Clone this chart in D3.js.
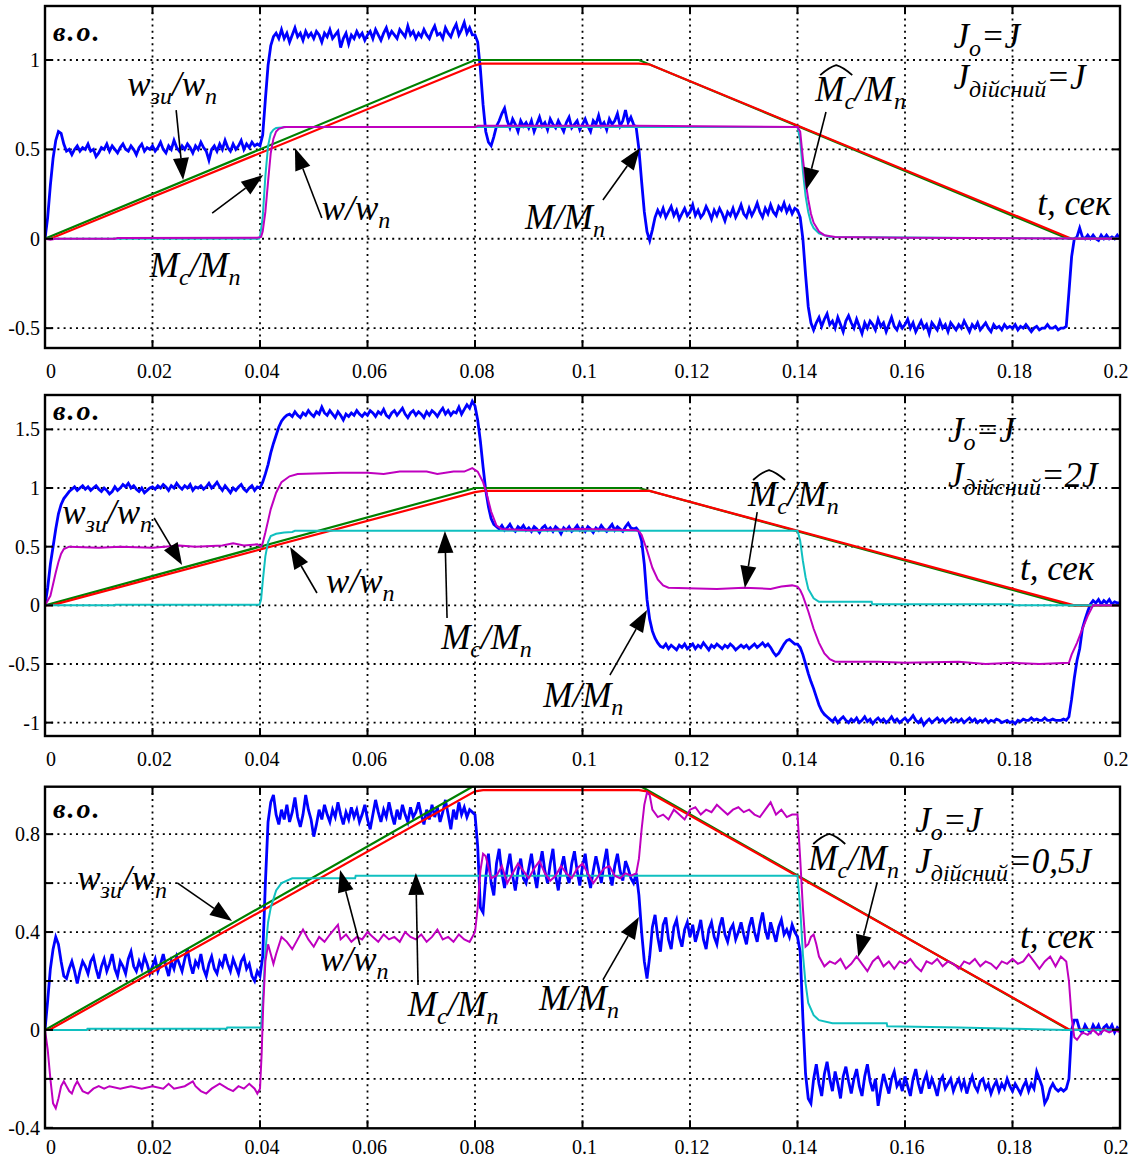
<!DOCTYPE html>
<html>
<head>
<meta charset="utf-8">
<script src="https://cdn.jsdelivr.net/npm/d3@7"></script>
<style>
  body { margin: 0; background: #fff; }
  svg { display: block; }
  text { font-family: "Liberation Serif", "Times New Roman", serif; fill: #000; }
</style>
</head>
<body>
<div id="container"></div>
<script>
// ---- axes ----
const xTicks = [0, 0.02, 0.04, 0.06, 0.08, 0.1, 0.12, 0.14, 0.16, 0.18, 0.2];
const xTickLabels = ["0", "0.02", "0.04", "0.06", "0.08", "0.1", "0.12", "0.14", "0.16", "0.18", "0.2"];
const yTicks1 = [-0.5, 0, 0.5, 1];
const yLabels1 = ["-0.5", "0", "0.5", "1"];
const yTicks2 = [-1, -0.5, 0, 0.5, 1, 1.5];
const yLabels2 = ["-1", "-0.5", "0", "0.5", "1", "1.5"];
const yTicks3 = [-0.4, -0.2, 0, 0.2, 0.4, 0.6, 0.8];
const yLabels3 = ["-0.4", "", "0", "", "0.4", "", "0.8"];

// M/Mn is sampled every 0.5 ms, one row per 10 ms
const dt = 0.0005;

// ---- panel 1: J_actual = J ----
const green1 = [[0,0],[0.08,1],[0.1105,1],[0.1903,0],[0.2,0]];
const red1 = [[0,0],[0.001,0],[0.08,0.97],[0.0812,0.98],[0.1105,0.98],[0.1125,0.975],[0.191,0],[0.2,0]];
const cyan1 = [[0,0],[0.0398,0],[0.04,0.01],[0.0405,0.12],[0.041,0.35],[0.0415,0.52],[0.042,0.59],[0.0425,0.61],[0.043,0.62],[0.045,0.625],[0.14,0.625],[0.1405,0.55],[0.141,0.38],[0.1415,0.24],[0.142,0.15],[0.1425,0.09],[0.143,0.06],[0.144,0.03],[0.146,0.01],[0.2,0]];
const magenta1 = [[0,0],[0.001,-0.006],[0.002,0],[0.013,0],[0.0135,0.004],[0.0395,0.006],[0.0402,0.01],[0.0405,0.04],[0.041,0.15],[0.0415,0.32],[0.042,0.48],[0.0425,0.56],[0.043,0.6],[0.0435,0.615],[0.0445,0.625],[0.08,0.625],[0.0805,0.632],[0.11,0.632],[0.14,0.625],[0.1405,0.6],[0.141,0.45],[0.1415,0.32],[0.142,0.22],[0.1425,0.14],[0.143,0.09],[0.144,0.04],[0.145,0.02],[0.147,0.01],[0.16,0.005],[0.2,0]];
const blue1 = [
  [0,0.12,0.3,0.45,0.55,0.6,0.59,0.53,0.49,0.5,0.47,0.5,0.52,0.49,0.51,0.5,0.53,0.49,0.5,0.46],
  [0.48,0.51,0.5,0.53,0.49,0.52,0.5,0.48,0.51,0.53,0.5,0.49,0.52,0.5,0.47,0.51,0.53,0.49,0.51,0.5],
  [0.52,0.49,0.51,0.54,0.5,0.48,0.52,0.5,0.55,0.51,0.49,0.52,0.5,0.53,0.51,0.48,0.52,0.5,0.54,0.51],
  [0.49,0.44,0.5,0.52,0.49,0.53,0.5,0.55,0.51,0.49,0.53,0.5,0.52,0.55,0.5,0.53,0.51,0.54,0.52,0.53],
  [0.52,0.58,0.78,0.97,1.08,1.13,1.15,1.12,1.17,1.12,1.15,1.1,1.14,1.18,1.13,1.15,1.11,1.16,1.13,1.15],
  [1.12,1.16,1.14,1.1,1.15,1.13,1.17,1.12,1.14,1.16,1.07,1.12,1.15,1.09,1.14,1.12,1.16,1.13,1.15,1.11],
  [1.14,1.16,1.12,1.17,1.14,1.11,1.15,1.18,1.13,1.16,1.14,1.12,1.17,1.15,1.13,1.19,1.14,1.16,1.12,1.15],
  [1.13,1.17,1.14,1.12,1.16,1.19,1.14,1.15,1.12,1.18,1.15,1.13,1.17,1.2,1.14,1.17,1.21,1.15,1.18,1.14],
  [1.14,1.1,0.95,0.75,0.6,0.54,0.52,0.57,0.63,0.66,0.7,0.73,0.66,0.62,0.67,0.64,0.6,0.66,0.63,0.65],
  [0.62,0.66,0.6,0.64,0.68,0.63,0.65,0.61,0.67,0.64,0.62,0.66,0.63,0.6,0.65,0.68,0.62,0.64,0.66,0.61],
  [0.64,0.67,0.63,0.6,0.66,0.64,0.69,0.63,0.65,0.61,0.67,0.64,0.66,0.7,0.63,0.66,0.72,0.65,0.68,0.64],
  [0.62,0.5,0.32,0.15,0.04,-0.01,0.05,0.12,0.16,0.13,0.17,0.12,0.15,0.18,0.13,0.16,0.11,0.14,0.17,0.13],
  [0.15,0.19,0.13,0.16,0.12,0.14,0.18,0.15,0.11,0.16,0.13,0.17,0.14,0.1,0.15,0.13,0.17,0.12,0.15,0.19],
  [0.14,0.12,0.17,0.13,0.16,0.2,0.15,0.12,0.17,0.14,0.19,0.15,0.13,0.18,0.16,0.2,0.15,0.18,0.14,0.17],
  [0.16,0.12,0,-0.2,-0.38,-0.47,-0.51,-0.47,-0.44,-0.49,-0.45,-0.42,-0.48,-0.46,-0.5,-0.44,-0.48,-0.52,-0.46,-0.43],
  [-0.47,-0.5,-0.45,-0.49,-0.53,-0.47,-0.5,-0.46,-0.48,-0.51,-0.45,-0.49,-0.47,-0.52,-0.48,-0.44,-0.49,-0.51,-0.47,-0.5],
  [-0.48,-0.45,-0.5,-0.47,-0.52,-0.49,-0.46,-0.5,-0.48,-0.53,-0.47,-0.49,-0.51,-0.46,-0.5,-0.48,-0.52,-0.47,-0.49,-0.51],
  [-0.48,-0.5,-0.46,-0.49,-0.52,-0.48,-0.5,-0.47,-0.51,-0.49,-0.47,-0.5,-0.52,-0.48,-0.5,-0.49,-0.51,-0.48,-0.5,-0.49],
  [-0.5,-0.48,-0.51,-0.49,-0.5,-0.48,-0.5,-0.52,-0.5,-0.49,-0.51,-0.5,-0.5,-0.48,-0.5,-0.5,-0.49,-0.51,-0.5,-0.5],
  [-0.49,-0.3,-0.1,0,0.01,0.06,0.01,0,0.02,0,0.02,0,-0.01,0.02,0,0.02,0,0.01,0,0.02],
  [0]
];

// ---- panel 2: J_actual = 2J ----
const green2 = [[0,0],[0.08,1],[0.1105,1],[0.1905,0],[0.2,0]];
const red2 = [[0,0],[0.0012,0],[0.08,0.965],[0.0815,0.975],[0.1125,0.975],[0.1915,0],[0.2,0]];
const cyan2 = [[0,0],[0.013,0],[0.0131,0.005],[0.0399,0.005],[0.0402,0.05],[0.0405,0.2],[0.041,0.42],[0.0415,0.54],[0.042,0.59],[0.043,0.61],[0.0445,0.62],[0.046,0.625],[0.0465,0.635],[0.14,0.635],[0.1405,0.55],[0.141,0.38],[0.1415,0.24],[0.142,0.14],[0.143,0.06],[0.144,0.03],[0.1538,0.03],[0.1539,0.01],[0.18,0.01],[0.1801,0],[0.2,0]];
const magenta2 = [[0,0],[0.001,0.08],[0.0015,0.18],[0.002,0.28],[0.0025,0.37],[0.003,0.44],[0.0035,0.48],[0.0045,0.5],[0.01,0.49],[0.014,0.5],[0.02,0.49],[0.025,0.51],[0.028,0.5],[0.033,0.51],[0.035,0.53],[0.037,0.51],[0.0395,0.52],[0.0402,0.5],[0.0405,0.53],[0.041,0.62],[0.0415,0.72],[0.042,0.82],[0.043,0.96],[0.044,1.05],[0.0455,1.1],[0.047,1.12],[0.055,1.13],[0.06,1.13],[0.063,1.12],[0.066,1.14],[0.071,1.14],[0.073,1.12],[0.076,1.14],[0.078,1.14],[0.0795,1.17],[0.0805,1.14],[0.0815,1.05],[0.082,0.98],[0.083,0.8],[0.084,0.68],[0.085,0.65],[0.09,0.64],[0.1,0.65],[0.11,0.64],[0.1105,0.63],[0.111,0.6],[0.112,0.47],[0.113,0.32],[0.114,0.22],[0.115,0.17],[0.116,0.15],[0.125,0.14],[0.13,0.15],[0.135,0.14],[0.137,0.16],[0.139,0.17],[0.14,0.16],[0.1405,0.13],[0.141,0.08],[0.142,-0.05],[0.143,-0.2],[0.144,-0.32],[0.145,-0.41],[0.146,-0.46],[0.147,-0.48],[0.155,-0.48],[0.16,-0.49],[0.17,-0.48],[0.175,-0.5],[0.18,-0.49],[0.185,-0.5],[0.1905,-0.49],[0.191,-0.42],[0.192,-0.32],[0.193,-0.2],[0.194,-0.09],[0.195,0],[0.2,0]];
const blue2 = [
  [0,0.15,0.35,0.5,0.65,0.78,0.86,0.91,0.94,0.97,0.99,1.01,0.98,1,1.02,0.99,1.01,0.98,1,1.02],
  [0.99,0.97,1,0.98,0.95,0.97,1.01,0.98,1,1.03,1.01,1.04,1,1.02,0.99,0.97,1,0.96,0.98,1],
  [1.01,0.99,1.02,1,1.03,1.01,0.98,1.02,1,1.04,1.01,0.99,1.02,1,1.03,0.98,1.01,1,1.02,0.99],
  [1.01,1.04,1,1.02,1.05,1.01,0.98,1.02,0.99,0.96,1,0.98,1.01,1.03,0.99,0.97,1,1.02,0.98,1.01],
  [1,1.05,1.12,1.2,1.3,1.38,1.45,1.52,1.57,1.6,1.62,1.63,1.61,1.65,1.62,1.6,1.64,1.62,1.66,1.63],
  [1.61,1.65,1.63,1.69,1.64,1.62,1.66,1.63,1.6,1.65,1.62,1.58,1.63,1.61,1.64,1.62,1.66,1.63,1.61,1.64],
  [1.62,1.66,1.64,1.61,1.65,1.63,1.67,1.62,1.6,1.64,1.66,1.62,1.65,1.68,1.63,1.6,1.64,1.66,1.62,1.65],
  [1.63,1.6,1.65,1.62,1.66,1.64,1.61,1.65,1.68,1.63,1.66,1.62,1.65,1.64,1.69,1.63,1.67,1.71,1.68,1.74],
  [1.7,1.58,1.4,1.18,0.98,0.84,0.74,0.69,0.67,0.65,0.68,0.64,0.66,0.69,0.65,0.63,0.67,0.65,0.68,0.64],
  [0.66,0.63,0.67,0.65,0.62,0.66,0.68,0.64,0.66,0.63,0.67,0.65,0.61,0.66,0.64,0.67,0.63,0.65,0.68,0.64],
  [0.66,0.63,0.67,0.65,0.62,0.66,0.64,0.68,0.65,0.63,0.66,0.69,0.64,0.67,0.65,0.63,0.67,0.7,0.66,0.65],
  [0.66,0.63,0.55,0.35,0.05,-0.12,-0.22,-0.28,-0.32,-0.35,-0.36,-0.33,-0.37,-0.34,-0.36,-0.38,-0.34,-0.36,-0.33,-0.37],
  [-0.35,-0.33,-0.37,-0.34,-0.36,-0.32,-0.35,-0.38,-0.34,-0.36,-0.33,-0.35,-0.37,-0.34,-0.36,-0.33,-0.35,-0.38,-0.36,-0.34],
  [-0.36,-0.34,-0.37,-0.35,-0.33,-0.36,-0.34,-0.32,-0.35,-0.33,-0.36,-0.4,-0.43,-0.41,-0.37,-0.33,-0.3,-0.29,-0.31,-0.33],
  [-0.33,-0.36,-0.42,-0.5,-0.58,-0.65,-0.71,-0.78,-0.85,-0.9,-0.93,-0.95,-0.97,-0.99,-0.96,-1,-0.97,-0.95,-0.98,-1],
  [-0.97,-0.99,-0.96,-1,-0.98,-0.95,-0.99,-0.97,-1.01,-0.98,-0.96,-0.99,-0.97,-1,-0.98,-0.95,-0.99,-0.97,-1,-0.98],
  [-0.96,-0.99,-0.97,-0.94,-0.98,-1,-0.97,-1.02,-0.99,-0.97,-1,-0.98,-0.96,-0.99,-0.97,-1,-0.98,-0.96,-0.99,-0.97],
  [-0.99,-0.97,-1,-0.98,-0.96,-0.99,-0.97,-1,-0.98,-0.99,-0.97,-1,-0.98,-0.99,-0.97,-0.98,-1,-0.99,-0.98,-1],
  [-0.99,-1.01,-0.98,-0.99,-0.97,-0.98,-0.98,-0.96,-0.98,-0.97,-0.98,-0.98,-0.96,-0.98,-0.98,-0.97,-0.98,-0.98,-0.98,-0.97],
  [-0.98,-0.95,-0.8,-0.62,-0.47,-0.37,-0.2,-0.12,-0.05,0.01,0.04,0.02,0.05,0.01,0.04,0.02,0.05,0.01,0.03,0.02],
  [0.02]
];

// ---- panel 3: J_actual = 0,5J ----
const green3 = [[0,0],[0.08,1],[0.1105,1],[0.1905,0],[0.2,0]];
const red3 = [[0,0],[0.0008,0],[0.08,0.975],[0.0815,0.98],[0.1105,0.98],[0.112,0.975],[0.1907,0],[0.2,0]];
const cyan3 = [[0,0],[0.0078,0],[0.0079,0.005],[0.0338,0.005],[0.0339,0.01],[0.0402,0.01],[0.0406,0.15],[0.041,0.32],[0.0415,0.44],[0.042,0.5],[0.043,0.57],[0.044,0.6],[0.046,0.62],[0.0577,0.62],[0.0578,0.63],[0.14,0.63],[0.1405,0.5],[0.141,0.31],[0.1415,0.19],[0.142,0.11],[0.143,0.06],[0.144,0.04],[0.1465,0.027],[0.1566,0.027],[0.1567,0.015],[0.17,0.01],[0.18,0.005],[0.19,0],[0.2,0]];
const magenta3 = [[0,0],[0.0005,-0.08],[0.001,-0.2],[0.0015,-0.3],[0.002,-0.32],[0.0025,-0.28],[0.003,-0.23],[0.0035,-0.21],[0.004,-0.23],[0.0045,-0.25],[0.005,-0.26],[0.0055,-0.23],[0.006,-0.21],[0.0065,-0.23],[0.007,-0.25],[0.008,-0.26],[0.009,-0.24],[0.01,-0.23],[0.011,-0.24],[0.012,-0.23],[0.014,-0.24],[0.016,-0.23],[0.018,-0.24],[0.02,-0.23],[0.022,-0.24],[0.023,-0.22],[0.024,-0.24],[0.026,-0.23],[0.0275,-0.21],[0.028,-0.23],[0.029,-0.25],[0.03,-0.26],[0.031,-0.24],[0.0325,-0.22],[0.034,-0.24],[0.035,-0.25],[0.036,-0.23],[0.037,-0.24],[0.038,-0.22],[0.039,-0.24],[0.0395,-0.26],[0.04,-0.24],[0.0403,-0.1],[0.0406,0.1],[0.041,0.28],[0.0415,0.35],[0.042,0.31],[0.0425,0.27],[0.043,0.31],[0.044,0.38],[0.045,0.36],[0.046,0.33],[0.047,0.37],[0.048,0.41],[0.049,0.37],[0.05,0.34],[0.051,0.38],[0.052,0.36],[0.053,0.39],[0.0545,0.43],[0.055,0.37],[0.056,0.39],[0.057,0.36],[0.058,0.38],[0.059,0.37],[0.06,0.4],[0.061,0.38],[0.062,0.36],[0.063,0.39],[0.064,0.37],[0.065,0.38],[0.066,0.36],[0.067,0.4],[0.068,0.38],[0.069,0.37],[0.07,0.39],[0.071,0.36],[0.072,0.38],[0.073,0.41],[0.074,0.37],[0.075,0.38],[0.076,0.36],[0.077,0.39],[0.078,0.37],[0.079,0.36],[0.0795,0.38],[0.08,0.4],[0.0805,0.5],[0.081,0.65],[0.0815,0.72],[0.082,0.71],[0.083,0.62],[0.084,0.63],[0.085,0.67],[0.086,0.6],[0.087,0.64],[0.088,0.68],[0.089,0.65],[0.09,0.62],[0.091,0.66],[0.092,0.69],[0.093,0.64],[0.094,0.61],[0.095,0.63],[0.096,0.67],[0.097,0.64],[0.098,0.62],[0.099,0.66],[0.1,0.68],[0.101,0.64],[0.102,0.6],[0.103,0.63],[0.104,0.66],[0.105,0.67],[0.106,0.63],[0.107,0.62],[0.108,0.64],[0.109,0.63],[0.11,0.64],[0.1105,0.7],[0.111,0.82],[0.1115,0.92],[0.112,0.97],[0.1125,0.96],[0.113,0.9],[0.114,0.87],[0.115,0.88],[0.116,0.86],[0.117,0.9],[0.118,0.88],[0.119,0.86],[0.12,0.9],[0.121,0.91],[0.122,0.88],[0.123,0.9],[0.124,0.89],[0.125,0.92],[0.126,0.9],[0.127,0.88],[0.128,0.9],[0.129,0.91],[0.13,0.89],[0.131,0.9],[0.132,0.88],[0.133,0.87],[0.134,0.9],[0.135,0.93],[0.136,0.88],[0.137,0.9],[0.138,0.87],[0.139,0.88],[0.14,0.88],[0.1405,0.7],[0.141,0.5],[0.1415,0.34],[0.142,0.35],[0.1425,0.38],[0.143,0.39],[0.1435,0.35],[0.144,0.3],[0.145,0.26],[0.146,0.28],[0.147,0.27],[0.148,0.29],[0.149,0.25],[0.15,0.27],[0.151,0.3],[0.152,0.27],[0.153,0.24],[0.154,0.28],[0.155,0.3],[0.156,0.26],[0.157,0.28],[0.158,0.25],[0.159,0.28],[0.16,0.27],[0.161,0.29],[0.162,0.26],[0.163,0.24],[0.164,0.28],[0.165,0.27],[0.166,0.29],[0.167,0.26],[0.168,0.28],[0.169,0.27],[0.17,0.25],[0.171,0.28],[0.172,0.27],[0.173,0.29],[0.174,0.26],[0.175,0.28],[0.176,0.27],[0.177,0.25],[0.178,0.28],[0.179,0.27],[0.18,0.29],[0.181,0.27],[0.182,0.28],[0.183,0.31],[0.184,0.28],[0.185,0.25],[0.186,0.28],[0.187,0.3],[0.188,0.26],[0.189,0.3],[0.19,0.28],[0.1905,0.2],[0.191,0.05],[0.1915,-0.03],[0.192,-0.04],[0.193,-0.01],[0.194,-0.02],[0.195,0],[0.196,-0.02],[0.197,0],[0.198,-0.01],[0.199,0],[0.2,-0.01]];
const blue3 = [
  [0,0.12,0.25,0.33,0.38,0.35,0.28,0.22,0.21,0.25,0.28,0.24,0.19,0.24,0.28,0.26,0.23,0.28,0.3,0.25],
  [0.21,0.26,0.29,0.24,0.27,0.31,0.25,0.22,0.28,0.26,0.23,0.29,0.32,0.26,0.24,0.28,0.25,0.3,0.27,0.23],
  [0.26,0.29,0.24,0.27,0.31,0.26,0.22,0.28,0.25,0.3,0.27,0.24,0.29,0.33,0.27,0.23,0.28,0.26,0.31,0.25],
  [0.22,0.27,0.3,0.25,0.23,0.28,0.26,0.31,0.27,0.24,0.29,0.26,0.23,0.28,0.3,0.25,0.27,0.22,0.2,0.24],
  [0.22,0.3,0.6,0.85,0.93,0.96,0.88,0.84,0.9,0.86,0.92,0.85,0.89,0.95,0.87,0.83,0.88,0.96,0.9,0.86],
  [0.79,0.84,0.9,0.86,0.92,0.88,0.85,0.9,0.87,0.93,0.88,0.84,0.89,0.86,0.91,0.87,0.9,0.85,0.88,0.92],
  [0.86,0.82,0.88,0.94,0.89,0.85,0.9,0.87,0.93,0.88,0.84,0.9,0.86,0.92,0.88,0.85,0.91,0.87,0.89,0.93],
  [0.88,0.84,0.9,0.86,0.92,0.87,0.91,0.85,0.89,0.94,0.88,0.82,0.9,0.86,0.93,0.88,0.91,0.87,0.9,0.89],
  [0.88,0.75,0.5,0.48,0.62,0.72,0.6,0.55,0.68,0.74,0.64,0.58,0.66,0.72,0.63,0.57,0.65,0.7,0.62,0.6],
  [0.66,0.72,0.64,0.58,0.67,0.73,0.65,0.6,0.68,0.74,0.63,0.57,0.66,0.71,0.64,0.6,0.68,0.73,0.65,0.59],
  [0.67,0.72,0.63,0.58,0.65,0.71,0.66,0.6,0.68,0.74,0.64,0.59,0.67,0.72,0.65,0.61,0.69,0.66,0.62,0.6],
  [0.64,0.55,0.4,0.28,0.21,0.3,0.42,0.47,0.38,0.32,0.43,0.46,0.37,0.33,0.42,0.45,0.38,0.34,0.41,0.44],
  [0.38,0.43,0.36,0.4,0.45,0.37,0.33,0.41,0.44,0.38,0.35,0.42,0.46,0.39,0.36,0.41,0.43,0.37,0.4,0.44],
  [0.39,0.35,0.42,0.46,0.4,0.36,0.43,0.48,0.41,0.37,0.44,0.4,0.36,0.42,0.45,0.39,0.41,0.38,0.43,0.4],
  [0.38,0.32,0.05,-0.18,-0.28,-0.3,-0.2,-0.14,-0.22,-0.27,-0.18,-0.13,-0.2,-0.25,-0.17,-0.22,-0.28,-0.19,-0.15,-0.21],
  [-0.26,-0.2,-0.16,-0.23,-0.27,-0.19,-0.14,-0.21,-0.25,-0.2,-0.31,-0.24,-0.18,-0.22,-0.26,-0.2,-0.17,-0.23,-0.21,-0.25],
  [-0.19,-0.23,-0.27,-0.2,-0.16,-0.22,-0.26,-0.21,-0.18,-0.24,-0.2,-0.23,-0.27,-0.21,-0.19,-0.24,-0.22,-0.2,-0.25,-0.22],
  [-0.2,-0.24,-0.21,-0.26,-0.22,-0.19,-0.23,-0.25,-0.21,-0.2,-0.24,-0.22,-0.26,-0.23,-0.21,-0.25,-0.22,-0.24,-0.2,-0.23],
  [-0.25,-0.22,-0.24,-0.26,-0.23,-0.21,-0.25,-0.22,-0.24,-0.17,-0.2,-0.23,-0.3,-0.28,-0.24,-0.22,-0.24,-0.25,-0.24,-0.25],
  [-0.24,-0.2,0,0.04,0.04,0,-0.01,0.02,0,-0.01,0.02,0,0.02,-0.01,0.01,0.02,0,0.02,-0.01,0.01],
  [0]
];

// ---- annotation texts ----
const LBL_WREF = [["w",0],["зи",1],["/w",0],["n",1]];
const LBL_W = [["w/w",0],["n",1]];
const LBL_MC = [["M",0],["c",1],["/M",0],["n",1]];
const LBL_M = [["M/M",0],["n",1]];
const LBL_J0 = [["J",0],["o",1],["=J",0]];
const LBL_JD1 = [["J",0],["дійсний",1],["=J",0]];
const LBL_JD2 = [["J",0],["дійсний",1],["=2J",0]];
const LBL_JD3 = [["J",0],["дійсний",1],["=0,5J",0]];
const LBL_T = [["t, сек",0]];

const panels = [
  {top: 6, bottom: 348, yDomain: [-0.611, 1.302], yTicks: yTicks1, yLabels: yLabels1,
   blue: blue1, green: green1, red: red1, cyan: cyan1, magenta: magenta1,
   notes: [
     {t: 0.0153, v: 0.80, parts: LBL_WREF}, {t: 0.0195, v: -0.215, parts: LBL_MC},
     {t: 0.0515, v: 0.105, parts: LBL_W}, {t: 0.0893, v: 0.054, parts: LBL_M},
     {t: 0.1433, v: 0.77, parts: LBL_MC, hat: true},
     {t: 0.169, v: 1.067, parts: LBL_J0}, {t: 0.169, v: 0.838, parts: LBL_JD1},
     {t: 0.1846, v: 0.133, parts: LBL_T}],
   arrows: [[0.0244,0.72,0.0257,0.3285],[0.0311,0.1438,0.0406,0.3565],[0.0515,0.1158,0.0465,0.5076],
            [0.1038,0.2166,0.1107,0.5076],[0.1453,0.709,0.1416,0.2725]],
   corner: {t: 0.0015, v: 1.106}},
  {top: 395, bottom: 736, yDomain: [-1.114, 1.793], yTicks: yTicks2, yLabels: yLabels2,
   blue: blue2, green: green2, red: red2, cyan: cyan2, magenta: magenta2,
   notes: [
     {t: 0.0032, v: 0.693, parts: LBL_WREF}, {t: 0.0523, v: 0.105, parts: LBL_W},
     {t: 0.0737, v: -0.3725, parts: LBL_MC}, {t: 0.0927, v: -0.867, parts: LBL_M},
     {t: 0.1308, v: 0.8466, parts: LBL_MC, hat: true},
     {t: 0.168, v: 1.392, parts: LBL_J0}, {t: 0.168, v: 1.0085, parts: LBL_JD2},
     {t: 0.1814, v: 0.2157, parts: LBL_T}],
   arrows: [[0.0203,0.7442,0.0255,0.3435],[0.0506,0.1049,0.0456,0.497],[0.0748,-0.1083,0.0744,0.6334],
            [0.1051,-0.5942,0.112,-0.0401],[0.1325,0.7954,0.1302,0.1475]],
   corner: {t: 0.0015, v: 1.58}},
  {top: 786.7, bottom: 1128.3, yDomain: [-0.402, 0.994], yTicks: yTicks3, yLabels: yLabels3,
   blue: blue3, green: green3, red: red3, cyan: cyan3, magenta: magenta3,
   notes: [
     {t: 0.006, v: 0.572, parts: LBL_WREF}, {t: 0.0512, v: 0.241, parts: LBL_W},
     {t: 0.0675, v: 0.0572, parts: LBL_MC}, {t: 0.0919, v: 0.0817, parts: LBL_M},
     {t: 0.142, v: 0.6537, parts: LBL_MC, hat: true},
     {t: 0.1619, v: 0.809, parts: LBL_J0}, {t: 0.1619, v: 0.6415, parts: LBL_JD3},
     {t: 0.1814, v: 0.335, parts: LBL_T}],
   arrows: [[0.0246,0.6006,0.0348,0.4454],[0.0586,0.3473,0.0549,0.6537],[0.0694,0.1839,0.069,0.6415],
            [0.1038,0.2043,0.1105,0.4617],[0.1548,0.6006,0.1513,0.2983]],
   corner: {t: 0.0015, v: 0.866}}
];

const svg = d3.select('#container').append('svg')
  .attr('width', 1133)
  .attr('height', 1160);

const x = d3.scaleLinear().domain([0, 0.2]).range([45, 1120]);
const FS = 35, SUB = 24, SUBDY = 8;

panels.forEach((p, k) => {
  const y = d3.scaleLinear().domain(p.yDomain).range([p.bottom, p.top]);
  const g = svg.append('g');
  const L = x.range()[0], R = x.range()[1];

  g.append('clipPath').attr('id', 'clip' + k)
    .append('rect').attr('x', L).attr('y', p.top).attr('width', R - L).attr('height', p.bottom - p.top);

  // dotted grid
  g.selectAll('line.gx').data(xTicks.slice(1, -1)).join('line')
    .attr('x1', d => x(d)).attr('x2', d => x(d)).attr('y1', p.top).attr('y2', p.bottom)
    .attr('stroke', '#000').attr('stroke-width', 1.8).attr('stroke-dasharray', '2,4.2');
  g.selectAll('line.gy').data(p.yTicks.filter(d => Math.abs(y(d) - p.bottom) > 2)).join('line')
    .attr('x1', L).attr('x2', R).attr('y1', d => y(d)).attr('y2', d => y(d))
    .attr('stroke', '#000').attr('stroke-width', 1.8).attr('stroke-dasharray', '2,4.2');

  // curves
  const line = d3.line().x(d => x(d[0])).y(d => y(d[1]));
  const lines = g.append('g').attr('clip-path', `url(#clip${k})`).attr('fill', 'none');
  const bluePts = p.blue.flatMap((row, r) => row.map((v, j) => [r * 0.01 + j * dt, v]));
  lines.append('path').datum(bluePts).attr('d', line).attr('stroke', '#0000ff').attr('stroke-width', 2.8);
  lines.append('path').datum(p.green).attr('d', line).attr('stroke', '#008000').attr('stroke-width', 2.2);
  lines.append('path').datum(p.red).attr('d', line).attr('stroke', '#ff0000').attr('stroke-width', 2.2);
  lines.append('path').datum(p.cyan).attr('d', line).attr('stroke', '#10c0c0').attr('stroke-width', 2);
  lines.append('path').datum(p.magenta).attr('d', line).attr('stroke', '#bf00bf').attr('stroke-width', 2);

  // ticks on all four sides, pointing inward
  xTicks.forEach(t => {
    g.append('line').attr('x1', x(t)).attr('x2', x(t)).attr('y1', p.top).attr('y2', p.top + 8)
      .attr('stroke', '#000').attr('stroke-width', 2);
    g.append('line').attr('x1', x(t)).attr('x2', x(t)).attr('y1', p.bottom - 8).attr('y2', p.bottom)
      .attr('stroke', '#000').attr('stroke-width', 2);
  });
  p.yTicks.forEach(v => {
    g.append('line').attr('x1', L).attr('x2', L + 8).attr('y1', y(v)).attr('y2', y(v))
      .attr('stroke', '#000').attr('stroke-width', 2);
    g.append('line').attr('x1', R - 8).attr('x2', R).attr('y1', y(v)).attr('y2', y(v))
      .attr('stroke', '#000').attr('stroke-width', 2);
  });

  g.append('rect').attr('x', L).attr('y', p.top).attr('width', R - L).attr('height', p.bottom - p.top)
    .attr('fill', 'none').attr('stroke', '#000').attr('stroke-width', 2.4);

  // tick labels
  g.selectAll('text.xl').data(xTicks).join('text')
    .attr('x', (d, i) => x(d) + (i === 0 ? 6 : (i === xTicks.length - 1 ? -4 : 2)))
    .attr('y', Math.min(p.bottom + 30, 1154))
    .attr('text-anchor', 'middle').attr('font-size', 20)
    .text((d, i) => xTickLabels[i]);
  g.selectAll('text.yl').data(p.yTicks).join('text')
    .attr('x', 40).attr('y', d => y(d) + 7)
    .attr('text-anchor', 'end').attr('font-size', 20)
    .text((d, i) => p.yLabels[i]);

  // "в.о." in the corner
  g.append('text').attr('x', x(p.corner.t)).attr('y', y(p.corner.v))
    .attr('font-size', 28).attr('font-style', 'italic').attr('font-weight', 'bold')
    .attr('letter-spacing', 2).text('в.о.');

  // labels with subscripts
  p.notes.forEach(n => {
    const tx = x(n.t), ty = y(n.v);
    const text = g.append('text').attr('x', tx).attr('y', ty)
      .attr('font-size', FS).attr('font-style', 'italic');
    let low = false;
    n.parts.forEach(([s, sub]) => {
      const ts = text.append('tspan').text(s);
      if (sub) { ts.attr('font-size', SUB); if (!low) ts.attr('dy', SUBDY); low = true; }
      else { if (low) ts.attr('dy', -SUBDY); low = false; }
    });
    if (n.hat) {
      g.append('path')
        .attr('d', `M${tx + 5},${ty - 26}Q${tx + 14},${ty - 34} ${tx + 21},${ty - 36}Q${tx + 28},${ty - 34} ${tx + 37},${ty - 26}`)
        .attr('fill', 'none').attr('stroke', '#000').attr('stroke-width', 1.8);
    }
  });

  // arrows
  p.arrows.forEach(([t1, v1, t2, v2]) => {
    const x1 = x(t1), y1 = y(v1), x2 = x(t2), y2 = y(v2);
    const a = Math.atan2(y2 - y1, x2 - x1), len = 22, hw = 8;
    const bx = x2 - len * Math.cos(a), by = y2 - len * Math.sin(a);
    g.append('line').attr('x1', x1).attr('y1', y1).attr('x2', bx).attr('y2', by)
      .attr('stroke', '#000').attr('stroke-width', 1.6);
    g.append('path')
      .attr('d', `M${x2},${y2}L${bx - hw * Math.sin(a)},${by + hw * Math.cos(a)}L${bx + hw * Math.sin(a)},${by - hw * Math.cos(a)}Z`)
      .attr('fill', '#000');
  });
});
</script>
</body>
</html>
